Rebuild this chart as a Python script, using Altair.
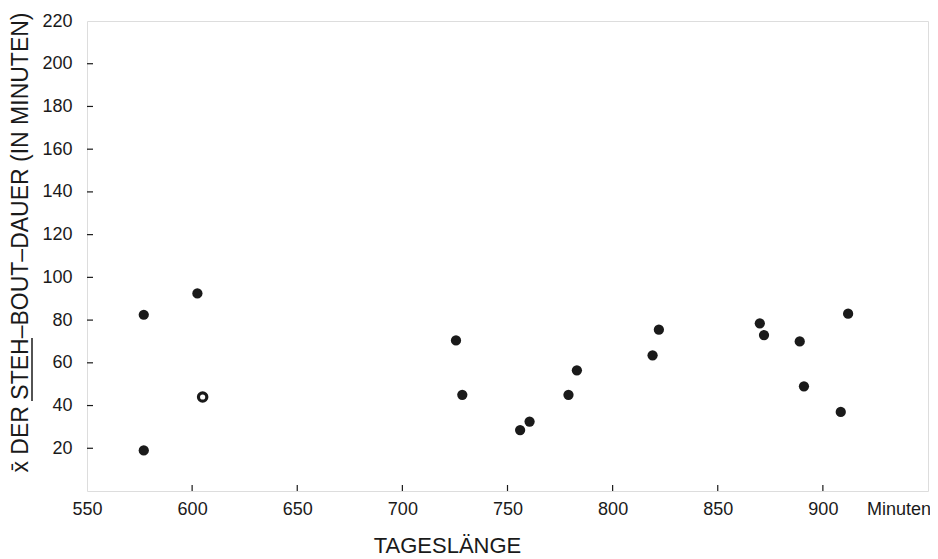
import altair as alt
import pandas as pd

# Data
tageslaenge = [577, 602.5, 605, 577, 725.5, 728.5, 756, 760.5, 779, 783,
               819, 822, 870, 872, 889, 891, 908.5, 912]
steh_dauer = [82.5, 92.5, 44, 19, 70.5, 45, 28.5, 32.5, 45, 56.5,
              63.5, 75.5, 78.5, 73, 70, 49, 37, 83]
art = ["voll", "voll", "offen", "voll", "voll", "voll", "voll", "voll", "voll", "voll",
       "voll", "voll", "voll", "voll", "voll", "voll", "voll", "voll"]

x_ticks = [600, 650, 700, 750, 800, 850, 900]
y_ticks = [20, 40, 60, 80, 100, 120, 140, 160, 180, 200]
x_label_values = [550, 600, 650, 700, 750, 800, 850, 900, 936]
y_label_values = [20, 40, 60, 80, 100, 120, 140, 160, 180, 200, 220]

W, H = 841, 470
FONT = "Liberation Sans"
INK = "#1a1a1a"

df = pd.DataFrame({"x": tageslaenge, "y": steh_dauer, "art": art})
xs = alt.Scale(domain=[550, 950], nice=False, zero=False)
ys = alt.Scale(domain=[0, 220], nice=False, zero=False)

x_axis = alt.Axis(values=x_label_values, grid=False, domain=False, tickSize=0, labelFlush=False,
                  labelPadding=9, labelFontSize=18, labelFont=FONT, labelColor=INK,
                  labelExpr="datum.value == 936 ? 'Minuten' : datum.label",
                  title="TAGESLÄNGE", titleFont=FONT, titleFontSize=22, titleFontWeight="normal",
                  titleColor=INK, titleX=360, titleY=54, titleBaseline="middle", titleAnchor="middle",
                  titleAlign="center")
y_axis = alt.Axis(values=y_label_values, grid=False, domain=False, tickSize=0, labelFlush=False,
                  labelPadding=15, labelFontSize=18, labelFont=FONT, labelColor=INK,
                  title="x̄ DER STEH–BOUT–DAUER (IN MINUTEN)", titleFont=FONT, titleFontSize=23,
                  titleFontWeight="normal", titleColor=INK, titleX=-67, titleY=221,
                  titleAngle=270, titleBaseline="middle", titleAlign="center", titleAnchor="middle")

base = alt.Chart(df)
voll = base.transform_filter(alt.datum.art == "voll").mark_circle(size=105, opacity=1, color=INK).encode(
    x=alt.X("x:Q", scale=xs, axis=x_axis),
    y=alt.Y("y:Q", scale=ys, axis=y_axis),
)
offen = base.transform_filter(alt.datum.art == "offen").mark_point(
    shape="circle", size=70, filled=False, fill="white", stroke=INK, strokeWidth=3.2, opacity=1
).encode(x=alt.X("x:Q", scale=xs), y=alt.Y("y:Q", scale=ys))

xt = alt.Chart(pd.DataFrame({"v": x_ticks})).mark_rule(color=INK, strokeWidth=1.2).encode(
    x=alt.X("v:Q", scale=xs), y=alt.value(H - 6), y2=alt.value(H))
yt = alt.Chart(pd.DataFrame({"v": y_ticks})).mark_rule(color=INK, strokeWidth=1.2).encode(
    y=alt.Y("v:Q", scale=ys), x=alt.value(0), x2=alt.value(6))
underline = alt.Chart(pd.DataFrame({"a": [0]})).mark_rule(color=INK, strokeWidth=1.5).encode(
    x=alt.value(-55), y=alt.value(317), y2=alt.value(380))

chart = alt.layer(voll, offen, xt, yt, underline).properties(
    width=W, height=H,
    autosize=alt.AutoSizeParams(type="none"),
    padding={"left": 79, "top": 13, "right": 2, "bottom": 67},
).configure_view(stroke=INK, strokeWidth=1.5).configure(background="white")

chart.save("out.html", embed_options={"renderer": "svg", "actions": False})
